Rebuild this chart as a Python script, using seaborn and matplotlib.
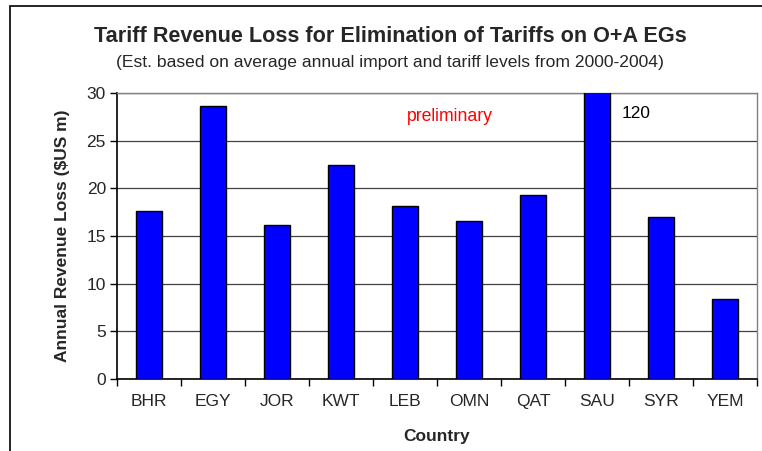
import numpy as np
import pandas as pd
import matplotlib
matplotlib.use("Agg")
import matplotlib.pyplot as plt
import matplotlib.patches as mpatches
import seaborn as sns

# data
countries = ['BHR', 'EGY', 'JOR', 'KWT', 'LEB', 'OMN', 'QAT', 'SAU', 'SYR', 'YEM']
revenue_loss = [17.6, 28.6, 16.2, 22.4, 18.1, 16.6, 19.3, 120, 17.0, 8.4]
y_ticks = [0, 5, 10, 15, 20, 25, 30]

df = pd.DataFrame({'Country': countries, 'Loss': revenue_loss})

sns.set_theme(style="white")
plt.rcParams['font.family'] = ['Liberation Sans', 'DejaVu Sans']

fig = plt.figure(figsize=(7.62, 4.51), dpi=100)
ax = fig.add_axes([117 / 762, 1 - 379 / 451, 640 / 762, 286 / 451])

sns.barplot(data=df, x='Country', y='Loss', color='#0000ff', saturation=1,
            edgecolor='black', linewidth=1, width=0.41, ax=ax, zorder=3)

ax.set_ylim(0, 30)
ax.set_xlim(-0.5, len(countries) - 0.5)
ax.set_yticks(y_ticks)
ax.yaxis.grid(True, color='#404040', linewidth=0.9, zorder=0)
ax.set_axisbelow(True)

# Excel style ticks between categories
ax.set_xticks(range(len(countries)))
ax.set_xticklabels(countries, fontsize=12.5)
ax.set_xticks(np.arange(-0.5, len(countries)), minor=True)
ax.tick_params(axis='x', which='major', length=0, pad=11)
ax.tick_params(axis='x', which='minor', length=5, width=1, color='black', direction='out', bottom=True)
ax.tick_params(axis='y', length=5, width=1, color='black', direction='out', left=True, labelsize=12.5, pad=3)

for s in ['left', 'bottom']:
    ax.spines[s].set_color('black')
    ax.spines[s].set_linewidth(1.2)
for s in ['top', 'right']:
    ax.spines[s].set_color('#808080')
    ax.spines[s].set_linewidth(1)

ax.set_xlabel('Country', fontsize=12.5, fontweight='bold')
ax.set_ylabel('Annual Revenue Loss ($US m)', fontsize=12.5, fontweight='bold')
ax.xaxis.set_label_coords(0.5, (379 - 437) / 286)
ax.yaxis.set_label_coords((63 - 117) / 640, 0.5)
ax.xaxis.label.set_va('center')
ax.yaxis.label.set_va('center')

ax.text(4.7, 27.5, 'preliminary', color='red', fontsize=12.7, ha='center', va='center')
ax.text(7.39, 27.9, '120', color='black', fontsize=12.4, ha='left', va='center')

fig.text(390 / 762, 1 - 37 / 451, 'Tariff Revenue Loss for Elimination of Tariffs on O+A EGs',
         fontsize=15.6, fontweight='bold', ha='center', va='center')
fig.text(390 / 762, 1 - 62 / 451, '(Est. based on average annual import and tariff levels from 2000-2004)',
         fontsize=12.6, ha='center', va='center')

# chart area border (only top and left visible in the reference)
fig.patches.append(mpatches.Rectangle((10 / 762, -0.05), 1.0, 1 - 6 / 451 + 0.05,
                                      transform=fig.transFigure, fill=False,
                                      edgecolor='black', linewidth=1.2))

fig.savefig('out.png', dpi=100)
